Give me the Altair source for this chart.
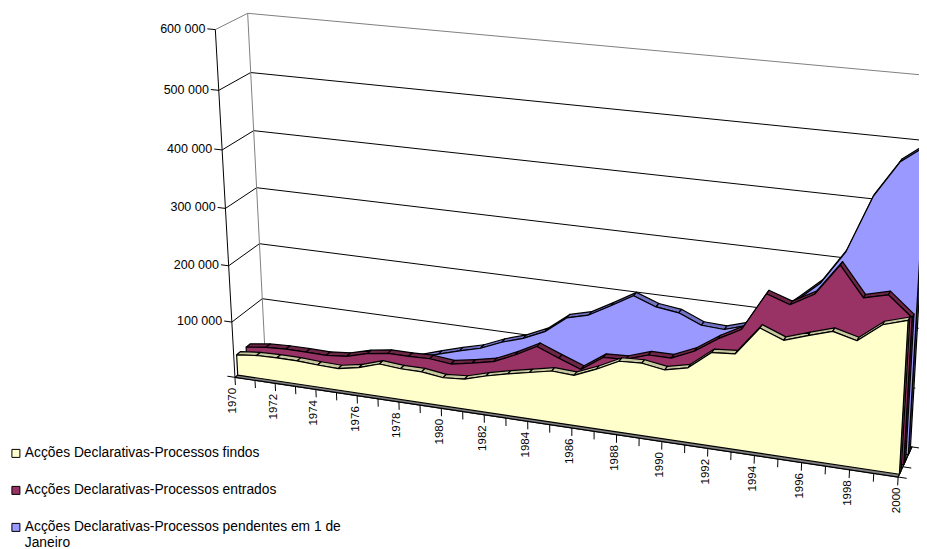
import altair as alt
import numpy as np
import pandas as pd

years = list(range(1970, 2001))
findos = [37000, 41000, 42000, 42000, 40000, 39000, 46000, 58000, 55000, 55000, 50000, 53000,
          64000, 73000, 81000, 89000, 87000, 103000, 122000, 124000, 118000, 127000, 158000,
          161000, 209000, 194000, 207000, 219000, 209000, 240000, 252000]
entrados = [37000, 42000, 44000, 44000, 43500, 47000, 57000, 63000, 63000, 64000, 60000, 67000,
            75000, 92000, 112000, 97000, 83000, 109000, 111000, 124000, 124000, 141000, 167000,
            188000, 252000, 239000, 261000, 313000, 265000, 275000, 243000]
pendentes = [18000, 19000, 20000, 21000, 22000, 24000, 28000, 34000, 45000, 57000, 68000, 78000,
             94000, 106000, 123000, 152000, 162000, 183000, 205000, 191000, 186000, 170000, 168000,
             180000, 200000, 231000, 265000, 321000, 414000, 472000, 501000]
names = ["Acções Declarativas-Processos findos",
         "Acções Declarativas-Processos entrados",
         "Acções Declarativas-Processos pendentes em 1 de Janeiro"]
face_colors = ["#FFFFCC", "#993366", "#9999FF"]
ridge_colors = ["#C8C8A0", "#6E2548", "#7272C4"]
side_colors = ["#70705A", "#4D1A33", "#4D4D80"]
y_ticks = [0, 100000, 200000, 300000, 400000, 500000, 600000]
floor_color = "#808080"
VMAX = 600000

# 3D box (year fraction, value fraction, depth) seen through the reference's camera
box = [((0, 0, 0), (235, 378)), ((0, 1, 0), (215, 30)), ((0, 0, 1), (265, 352)), ((0, 1, 1), (248, 13)),
       ((1, 0, 0), (898, 476)), ((1, 0, 1), (912, 448)), ((1, 1, 1), (933, 76)), ((1, 1, 0), (920, 96))]
A, b = [], []
for (X_, Y_, Z_), (u, v) in box:
    A.append([X_, Y_, Z_, 1, 0, 0, 0, 0, -u * X_, -u * Y_, -u * Z_]); b.append(u)
    A.append([0, 0, 0, 0, X_, Y_, Z_, 1, -v * X_, -v * Y_, -v * Z_]); b.append(v)
p = np.linalg.lstsq(np.array(A, float), np.array(b, float), rcond=None)[0]
M = np.append(p, 1.0).reshape(3, 4)


def project(year, value, z):
    h = M @ np.array([(year - 1970) / 30, value / VMAX, z, 1.0])
    return h[0] / h[2], h[1] / h[2]


poly_rows, line_rows = [], []
counts = {"poly": 0, "line": 0}


def add_poly(key, pts):
    pid = counts["poly"]
    counts["poly"] += 1
    for i, (yr, val, z) in enumerate(pts + pts[:1]):
        x, y = project(yr, val, z)
        poly_rows.append({"poly": pid, "i": i, "x": x, "y": y, "key": key, "year": yr, "value": val})


def add_line(color, a, b_):
    pid = counts["line"]
    counts["line"] += 1
    for i, pt in enumerate((a, b_)):
        x, y = project(*pt)
        line_rows.append({"line": pid, "i": i, "x": x, "y": y, "col": color})


# walls
for v in y_ticks[1:-1]:
    add_line("#000000", (1970, v, 0), (1970, v, 1))
    add_line("#000000", (1970, v, 1), (2000, v, 1))
add_line("#808080", (1970, 0, 1), (1970, VMAX, 1))
add_line("#808080", (1970, VMAX, 0), (1970, VMAX, 1))
add_line("#808080", (1970, VMAX, 1), (2000, VMAX, 1))
add_line("#808080", (1970, 0, 0), (1970, 0, 1))
add_line("#000000", (2000, 0, 0), (2000, 0, 1))
add_line("#000000", (1970, 0, 0), (1970, VMAX, 0))
add_line("#000000", (1970, 0, 0), (2000, 0, 0))
for v in y_ticks:
    add_line("#000000", (1970, v, 0), (1969.62, v, 0))
for yr in years:
    add_line("#000000", (yr, 0, 0), (yr, -14000, 0))
for z in (0, 1 / 3, 1):
    add_line("#000000", (2000, 0, z), (2000.35, 0, z))

# floor and series, back to front
add_poly("floor", [(1970, 0, 0), (2000, 0, 0), (2000, 0, 1), (1970, 0, 1)])
bands = [(0.09, 0.22), (0.40, 0.54), (0.74, 0.88)]
series = [findos, entrados, pendentes]
for s in (2, 1, 0):
    z1, z2 = bands[s]
    vals = series[s]
    add_poly(f"side{s}", [(2000, 0, z1), (2000, vals[-1], z1), (2000, vals[-1], z2), (2000, 0, z2)])
    for i in range(len(years) - 1):
        add_poly(f"ridge{s}", [(years[i], vals[i], z1), (years[i + 1], vals[i + 1], z1),
                               (years[i + 1], vals[i + 1], z2), (years[i], vals[i], z2)])
    add_poly(names[s], [(1970, 0, z1)] + [(y, w, z1) for y, w in zip(years, vals)] + [(2000, 0, z1)])

polys = pd.DataFrame(poly_rows)
lines = pd.DataFrame(line_rows)

dom = names + ["floor"] + [f"ridge{i}" for i in range(3)] + [f"side{i}" for i in range(3)]
rng = face_colors + [floor_color] + ridge_colors + side_colors

W, H = 911, 541
xs = alt.Scale(domain=[8, 8 + W], range=[0, W])
ys = alt.Scale(domain=[8, 8 + H], range=[0, H])
X = alt.X("x:Q", scale=xs, axis=None)
Y = alt.Y("y:Q", scale=ys, axis=None)

grid = alt.Chart(lines).mark_line(strokeWidth=1).encode(
    x=X, y=Y, detail="line:N", order="i:Q", stroke=alt.Stroke("col:N", scale=None))

legend = alt.Legend(orient="none", legendX=1, legendY=438.5, title=None, values=names,
                    symbolType="square", symbolSize=64, symbolStrokeColor="#000000", symbolStrokeWidth=1,
                    labelFont="Liberation Sans", labelFontSize=13.8, labelColor="#000000", labelLimit=400,
                    rowPadding=22, labelOffset=2,
                    labelExpr="split(replace(datum.label, ' 1 de Janeiro', ' 1 de|Janeiro'), '|')")
area = alt.Chart(polys).mark_line(stroke="#000000", strokeWidth=1.2, strokeJoin="round").encode(
    x=X, y=Y, detail="poly:N", order="i:Q",
    fill=alt.Fill("key:N", scale=alt.Scale(domain=dom, range=rng), legend=legend))

ylab = pd.DataFrame([{"t": f"{v // 1000} 000", "x": project(1969.62, v, 0)[0], "y": project(1969.62, v, 0)[1]}
                     for v in y_ticks[1:]])
yt = alt.Chart(ylab).mark_text(align="right", baseline="middle", dx=-2, font="Liberation Sans",
                               fontSize=12.5, color="#000000").encode(x=X, y=Y, text="t:N")
xlab = pd.DataFrame([{"t": str(yr), "x": project(yr, 0, 0)[0], "y": project(yr, 0, 0)[1]} for yr in years[::2]])
xt = alt.Chart(xlab).mark_text(align="right", baseline="middle", angle=270, dx=-10.5, dy=-1.5,
                               font="Liberation Sans", fontSize=11.5, color="#000000").encode(
    x=X, y=Y, text="t:N")

chart = (grid + area + yt + xt).properties(
    width=W, height=H, padding=0, autosize=alt.AutoSizeParams(type="none")
).configure_view(stroke=None)
chart.save("out.html", embed_options={"renderer": "svg", "actions": False})
